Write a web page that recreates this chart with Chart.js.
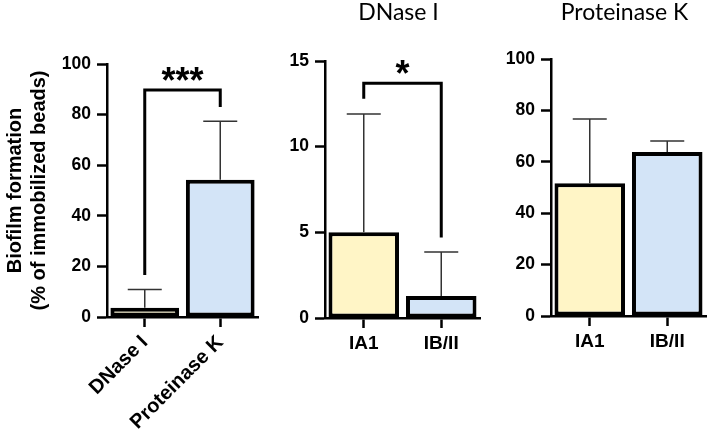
<!DOCTYPE html>
<html>
<head>
<meta charset="utf-8">
<script src="https://cdn.jsdelivr.net/npm/chart.js@4.4.0/dist/chart.umd.min.js"></script>
<style>
  html, body { margin: 0; padding: 0; background: #fff; }
  #wrap { position: relative; width: 707px; height: 430px; overflow: hidden; }
  canvas { position: absolute; top: 0; }
</style>
</head>
<body>
<div id="wrap">
  <canvas id="c1" width="262" height="430" style="left:0px"></canvas>
  <canvas id="c2" width="220" height="430" style="left:262px"></canvas>
  <canvas id="c3" width="225" height="430" style="left:482px"></canvas>
</div>
<script>
// ---------- data ----------
const panel1Categories = ['DNase I', 'Proteinase K'];
const panel1Means = [3.7, 54.2];
const panel1Errors = [7.2, 23.2];
const panel1Bracket = { from: 0, to: 1, top: 89.7, leftEnd: 16.6, rightEnd: 83, label: '***' };

const panel2Title = 'DNase I';
const panel2Categories = ['IA1', 'IB/II'];
const panel2Means = [5.0, 1.28];
const panel2Errors = [6.9, 2.57];
const panel2Bracket = { from: 0, to: 1, top: 13.7, leftEnd: 12.8, rightEnd: 4.7, label: '*' };

const panel3Title = 'Proteinase K';
const panel3Categories = ['IA1', 'IB/II'];
const panel3Means = [51.7, 63.8];
const panel3Errors = [25.0, 4.3];

const yTitle = ['Biofilm formation', '(% of immobilized beads)'];
const barColors = ['#FFF5C6', '#D3E4F7'];

// ---------- plugins ----------
const errorBarPlugin = {
  id: 'errorBars',
  afterDatasetsDraw(chart) {
    const ctx = chart.ctx;
    const yScale = chart.scales.y;
    const meta = chart.getDatasetMeta(0);
    const ds = chart.data.datasets[0];
    ctx.save();
    ctx.strokeStyle = '#333';
    ctx.lineWidth = 1.5;
    meta.data.forEach((el, i) => {
      const yTop = yScale.getPixelForValue(ds.data[i] + ds.errors[i]);
      const cap = 17;
      ctx.beginPath();
      ctx.moveTo(el.x, el.y);
      ctx.lineTo(el.x, yTop);
      ctx.moveTo(el.x - cap, yTop);
      ctx.lineTo(el.x + cap, yTop);
      ctx.stroke();
    });
    ctx.restore();
  }
};

const bracketPlugin = {
  id: 'sigBracket',
  afterDraw(chart) {
    const b = chart.options.plugins.sigBracket && chart.options.plugins.sigBracket.bracket;
    if (!b) return;
    const ctx = chart.ctx;
    const x = chart.scales.x, y = chart.scales.y;
    const x1 = x.getPixelForValue(b.from), x2 = x.getPixelForValue(b.to);
    const yt = y.getPixelForValue(b.top);
    const yl = y.getPixelForValue(b.leftEnd), yr = y.getPixelForValue(b.rightEnd);
    ctx.save();
    ctx.strokeStyle = '#000';
    ctx.lineWidth = 3;
    ctx.beginPath();
    ctx.moveTo(x1, yl);
    ctx.lineTo(x1, yt);
    ctx.lineTo(x2, yt);
    ctx.lineTo(x2, yr);
    ctx.stroke();
    ctx.fillStyle = '#000';
    ctx.font = 'bold 36px "Liberation Sans", Arial, sans-serif';
    ctx.textAlign = 'center';
    ctx.textBaseline = 'alphabetic';
    ctx.fillText(b.label, (x1 + x2) / 2, yt + 3);
    ctx.restore();
  }
};

const panelTitlePlugin = {
  id: 'panelTitle',
  afterDraw(chart) {
    const t = chart.options.plugins.panelTitle && chart.options.plugins.panelTitle.text;
    if (!t) return;
    const ctx = chart.ctx;
    const a = chart.chartArea;
    ctx.save();
    ctx.fillStyle = '#000';
    ctx.font = '23px Lato, "Open Sans", sans-serif';
    ctx.textAlign = 'center';
    ctx.textBaseline = 'alphabetic';
    ctx.fillText(t, (a.left + a.right) / 2 - 4, 20);
    ctx.restore();
  }
};

Chart.register(errorBarPlugin, bracketPlugin, panelTitlePlugin);

function makeChart(id, cats, means, errs, opt) {
  const tickFont = { family: '"Liberation Sans", Arial, sans-serif', weight: 'bold', size: 17.5 };
  const catFont = { family: '"Liberation Sans", Arial, sans-serif', weight: 'bold', size: opt.catSize || 19 };
  return new Chart(document.getElementById(id), {
    type: 'bar',
    data: {
      labels: cats,
      datasets: [{
        data: means,
        errors: errs,
        backgroundColor: barColors,
        borderColor: '#000',
        borderWidth: 4,
        borderSkipped: false,
        barPercentage: 0.91,
        categoryPercentage: 1.0
      }]
    },
    options: {
      responsive: false,
      animation: false,
      layout: { padding: { top: opt.top, left: 0, right: opt.right, bottom: 0 } },
      plugins: {
        legend: { display: false },
        tooltip: { enabled: false },
        title: { display: false },
        sigBracket: { bracket: opt.bracket || null },
        panelTitle: { text: opt.title || null }
      },
      scales: {
        x: {
          grid: { display: true, drawOnChartArea: false, offset: false, drawTicks: true, tickLength: 10, tickWidth: 2.5, tickColor: '#000' },
          border: { display: true, color: '#000', width: 2.5 },
          ticks: { color: '#000', font: catFont, padding: 4, maxRotation: opt.rot || 0, minRotation: opt.rot || 0, autoSkip: false },
          afterFit(s) { s.height = opt.xh; }
        },
        y: {
          min: 0, max: opt.max,
          grid: { display: true, drawOnChartArea: false, drawTicks: true, tickLength: 10, tickWidth: 2.5, tickColor: '#000' },
          border: { display: true, color: '#000', width: 2.5 },
          ticks: { color: '#000', font: tickFont, stepSize: opt.step, padding: 6 },
          title: opt.ytitle ? {
            display: true, text: opt.ytitle, color: '#000',
            font: { family: '"Liberation Sans", Arial, sans-serif', weight: 'bold', size: 20, lineHeight: 1.2 },
            padding: { top: 3, bottom: 0 }
          } : { display: false },
          afterFit(s) { s.width = opt.yw; }
        }
      }
    }
  });
}

makeChart('c1', panel1Categories, panel1Means, panel1Errors, {
  top: 64, right: 4, xh: 113, yw: 107, max: 100, step: 20, rot: 45, catSize: 20,
  bracket: panel1Bracket, ytitle: yTitle
});
makeChart('c2', panel2Categories, panel2Means, panel2Errors, {
  top: 61, right: 2, xh: 112, yw: 63, max: 15, step: 5,
  bracket: panel2Bracket, title: panel2Title
});
makeChart('c3', panel3Categories, panel3Means, panel3Errors, {
  top: 59, right: 1, xh: 114, yw: 69, max: 100, step: 20,
  title: panel3Title
});
</script>
</body>
</html>
